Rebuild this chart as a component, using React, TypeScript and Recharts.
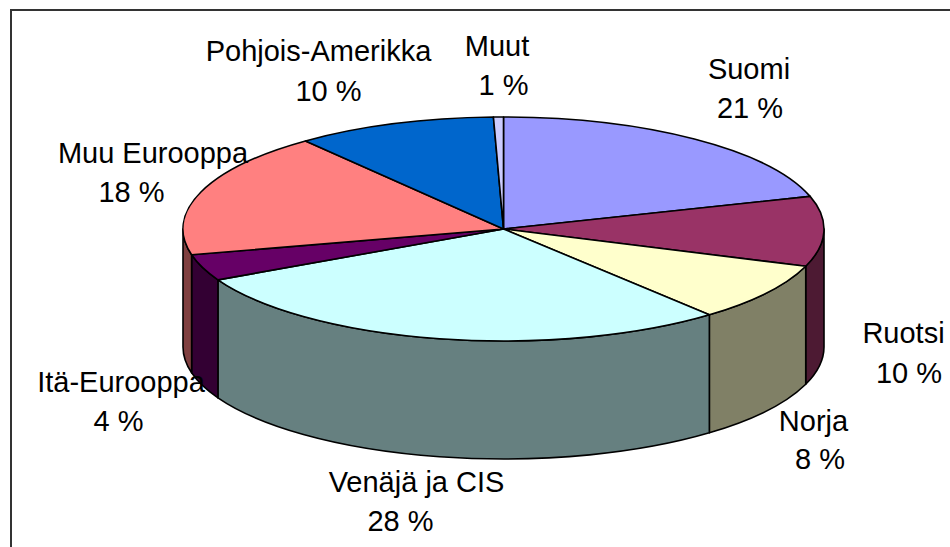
import React from "react";
import { PieChart, Pie, Cell } from "recharts";

const categories = ["Suomi", "Ruotsi", "Norja", "Venäjä ja CIS", "Itä-Eurooppa", "Muu Eurooppa", "Pohjois-Amerikka", "Muut"];
const shares = [20.3, 10.1, 8.5, 28.6, 3.8, 18.1, 10.1, 0.5];
const percentLabels = ["21 %", "10 %", "8 %", "28 %", "4 %", "18 %", "10 %", "1 %"];
const topColors = ["#9999FF", "#993366", "#FFFFCC", "#CCFFFF", "#660066", "#FF8080", "#0066CC", "#CCCCFF"];
const wallColors = ["#4D4D80", "#4D1A33", "#808066", "#668080", "#330033", "#804040", "#003366", "#666680"];
// [name centre x, name baseline y, percent centre x, percent baseline y]
const labelLayout: [number, number, number, number][] = [
  [749, 79, 750, 118],
  [903.5, 343, 909, 383],
  [813.5, 431, 820, 469],
  [416.5, 492, 400.5, 531],
  [121, 392, 118.5, 431],
  [153, 163, 131.5, 202],
  [318.5, 61, 328.5, 101],
  [497, 56, 503.5, 95],
];

const data = categories.map((name, i) => ({ name, value: shares[i], index: i }));

const CX = 503.5;
const CY = 229;
const RX = 320.5;
const RY = 112;
const DEPTH = 118;
const LINE = "#000";

const pt = (deg: number, dy = 0): [number, number] => {
  const r = (deg * Math.PI) / 180;
  return [CX + RX * Math.cos(r), CY + dy - RY * Math.sin(r)];
};
const fmt = (p: [number, number]) => `${p[0].toFixed(2)} ${p[1].toFixed(2)}`;

function Slice3D(props: any) {
  const { startAngle, endAngle, index } = props;
  const large = Math.abs(endAngle - startAngle) > 180 ? 1 : 0;
  const top = `M ${CX} ${CY} L ${fmt(pt(startAngle))} A ${RX} ${RY} 0 ${large} 1 ${fmt(pt(endAngle))} Z`;
  // the front half of the rim runs from 0deg down to -180deg in chart angles
  const from = Math.min(startAngle, 0);
  const to = Math.max(endAngle, -180);
  const hasWall = from > to;
  const wall = hasWall
    ? `M ${fmt(pt(from))} A ${RX} ${RY} 0 0 1 ${fmt(pt(to))} L ${fmt(pt(to, DEPTH))} A ${RX} ${RY} 0 0 0 ${fmt(pt(from, DEPTH))} Z`
    : "";
  return (
    <g>
      {hasWall && <path d={wall} fill={wallColors[index]} stroke={LINE} strokeWidth={1.6} strokeLinejoin="round" />}
      <path d={top} fill={topColors[index]} stroke={LINE} strokeWidth={1.6} strokeLinejoin="round" />
    </g>
  );
}

function SliceLabel(props: any) {
  const i = props.index;
  const [nx, ny, px, py] = labelLayout[i];
  return (
    <text textAnchor="middle" fontFamily="'Liberation Sans', Arial, sans-serif" fontSize={29} fill="#000">
      <tspan x={nx} y={ny}>{categories[i]}</tspan>
      <tspan x={px} y={py}>{percentLabels[i]}</tspan>
    </text>
  );
}

export default function App() {
  return (
    <div style={{ position: "absolute", left: 0, top: 0, width: 950, height: 547, overflow: "hidden", background: "#fff" }}>
      <div style={{ position: "absolute", left: 10, top: 9, width: 950, height: 537, borderLeft: "2px solid #333", borderTop: "2px solid #333" }} />
      <div style={{ position: "absolute", left: 0, top: 0 }}>
        <PieChart width={950} height={547} margin={{ top: 0, right: 0, bottom: 0, left: 0 }}>
          <Pie
            data={data}
            dataKey="value"
            nameKey="name"
            cx={CX}
            cy={CY}
            outerRadius={RX}
            startAngle={90}
            endAngle={-270}
            paddingAngle={0}
            stroke={LINE}
            isAnimationActive={false}
            shape={Slice3D}
            label={SliceLabel}
            labelLine={false}
          >
            {data.map((d) => (
              <Cell key={d.name} fill={topColors[d.index]} />
            ))}
          </Pie>
        </PieChart>
      </div>
    </div>
  );
}
